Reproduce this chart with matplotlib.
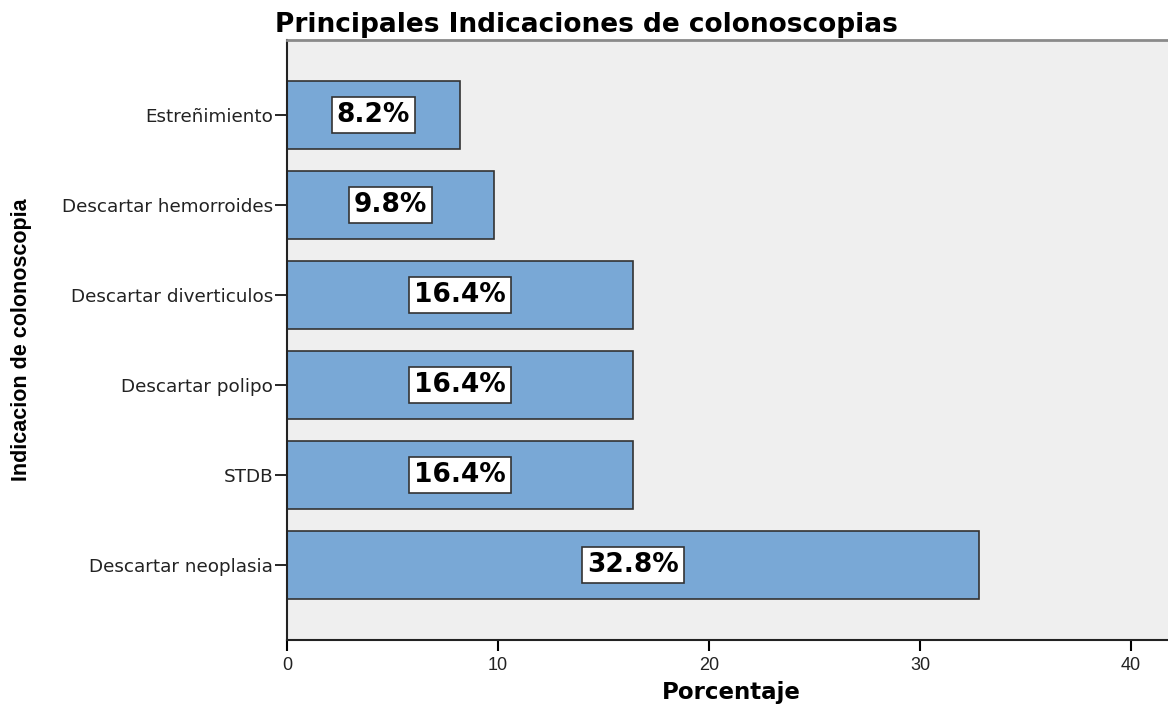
import matplotlib
matplotlib.use("Agg")
import matplotlib.pyplot as plt

categories = ["Descartar neoplasia", "STDB", "Descartar polipo",
              "Descartar diverticulos", "Descartar hemorroides", "Estreñimiento"]
values = [32.8, 16.4, 16.4, 16.4, 9.8, 8.2]
labels = ["32.8%", "16.4%", "16.4%", "16.4%", "9.8%", "8.2%"]
xticks = [0, 10, 20, 30, 40]

fig = plt.figure(figsize=(11.68, 7.08), dpi=100)
ax = fig.add_axes([287 / 1168, 1 - 640 / 708, 1 - 287 / 1168, 600 / 708])
ax.set_facecolor("#efefef")

pos = list(range(len(categories)))
ax.barh(pos, values, height=0.75, color="#79a8d6", edgecolor="#333333", linewidth=1.2, zorder=2)
for p, v, lab in zip(pos, values, labels):
    ax.text(v / 2, p, lab, ha="center", va="center", fontsize=19, fontweight="bold",
            bbox=dict(boxstyle="square,pad=0.18", facecolor="white", edgecolor="#333333", linewidth=1.2),
            zorder=3)

ax.set_xlim(0, 41.75)
ax.set_ylim(-0.83, 5.83)
ax.set_yticks(pos)
ax.set_yticklabels(categories, fontsize=13.2, color="#222222")
ax.set_xticks(xticks)
ax.set_xticklabels([str(t) for t in xticks], fontsize=13,
                   family=["Liberation Sans", "DejaVu Sans"], color="#222222")
ax.tick_params(axis="y", length=9, width=1.2, pad=1)
ax.tick_params(axis="x", length=8, width=1.5, pad=4)

for s in ["left", "bottom"]:
    ax.spines[s].set_linewidth(1.5)
    ax.spines[s].set_color("#222222")
ax.spines["top"].set_color("#8a8a8a")
ax.spines["top"].set_linewidth(2)
ax.spines["right"].set_visible(False)

fig.text(731 / 1168, 1 - 692 / 708, "Porcentaje", ha="center", va="center",
         fontsize=16.5, fontweight="bold")
fig.text(22 / 1168, 1 - 340 / 708, "Indicacion de colonoscopia", ha="center", va="center",
         rotation=90, fontsize=15.5, fontweight="bold", family=["Liberation Sans", "DejaVu Sans"])
fig.text(0.502, 1 - 25 / 708, "Principales Indicaciones de colonoscopias",
         ha="center", va="center", fontsize=19, fontweight="bold")

fig.savefig("out.png", dpi=100)
